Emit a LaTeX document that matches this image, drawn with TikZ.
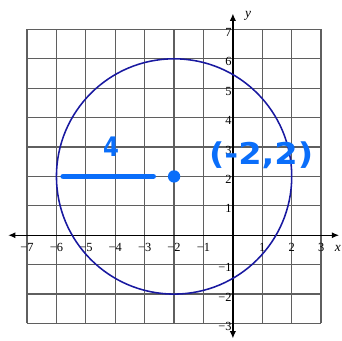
\documentclass[tikz,border=0pt]{standalone}
\usepackage{fontspec}
\setmainfont{Liberation Serif}
\newfontfamily\handfont{DejaVu Sans}
\usetikzlibrary{arrows.meta}
\definecolor{gridgray}{RGB}{95,95,95}
\definecolor{circblue}{RGB}{25,25,160}
\definecolor{penblue}{RGB}{10,110,250}
\tikzset{
  gridline/.style={draw=gridgray, line width=1.2pt},
  axisline/.style={draw=black, line width=1.2pt, {Latex[length=7pt,width=6pt]}-{Latex[length=7pt,width=6pt]}},
  xtick/.style={font=\fontsize{12}{14}\selectfont, inner sep=0pt},
  ytick/.style={font=\fontsize{12}{14}\selectfont, inner sep=0pt, anchor=east},
  pen/.style={penblue, line width=5.5pt, line cap=round},
  handtext/.style={text=penblue, inner sep=0pt}
}
\begin{document}
\begin{tikzpicture}[x=1cm,y=1cm]
\useasboundingbox (-7.92,-3.59) rectangle (3.71,8.0);
\draw[gridline] (-7,-3) grid (3,7);
\draw[axisline] (-7.64,0) -- (3.61,0);
\draw[axisline] (0,-3.51) -- (0,7.54);
\foreach \v in {-7,-6,-5,-4,-3,-2,-1} \node[xtick] (xl\v) at (\v,-0.42) {−\the\numexpr-\v\relax};
\foreach \v in {1,2,3} \node[xtick] (xl\v) at (\v,-0.42) {\v};
\foreach \v in {1,2,...,7} \node[ytick] (yl\v) at (-0.04,\v-0.1) {\v};
\foreach \v in {-1,-2,-3} \node[ytick] (yl\v) at (-0.04,\v-0.1) {−\the\numexpr-\v\relax};
\node[font=\itshape\fontsize{13}{15}\selectfont] (xlab) at (3.57,-0.46) {x};
\node[font=\itshape\fontsize{13}{15}\selectfont] (ylab) at (0.52,7.47) {y};
\coordinate (c) at (-2,2);
\draw[circblue, line width=1.5pt] (c) circle (4);
\coordinate (ra) at (-5.77,2);
\coordinate (rb) at (-2.71,2);
\draw[pen] (ra) -- (rb);
\fill[penblue] (c) circle (0.21);
\node[handtext, font=\handfont\bfseries\fontsize{26}{28}\selectfont, xscale=0.85] (four) at (-4.14,3.0) {4};
\node[handtext, font=\handfont\bfseries\fontsize{29}{31}\selectfont, xscale=1.12] (pt) at (0.96,2.72) {(-2,2)};
\end{tikzpicture}
\end{document}
